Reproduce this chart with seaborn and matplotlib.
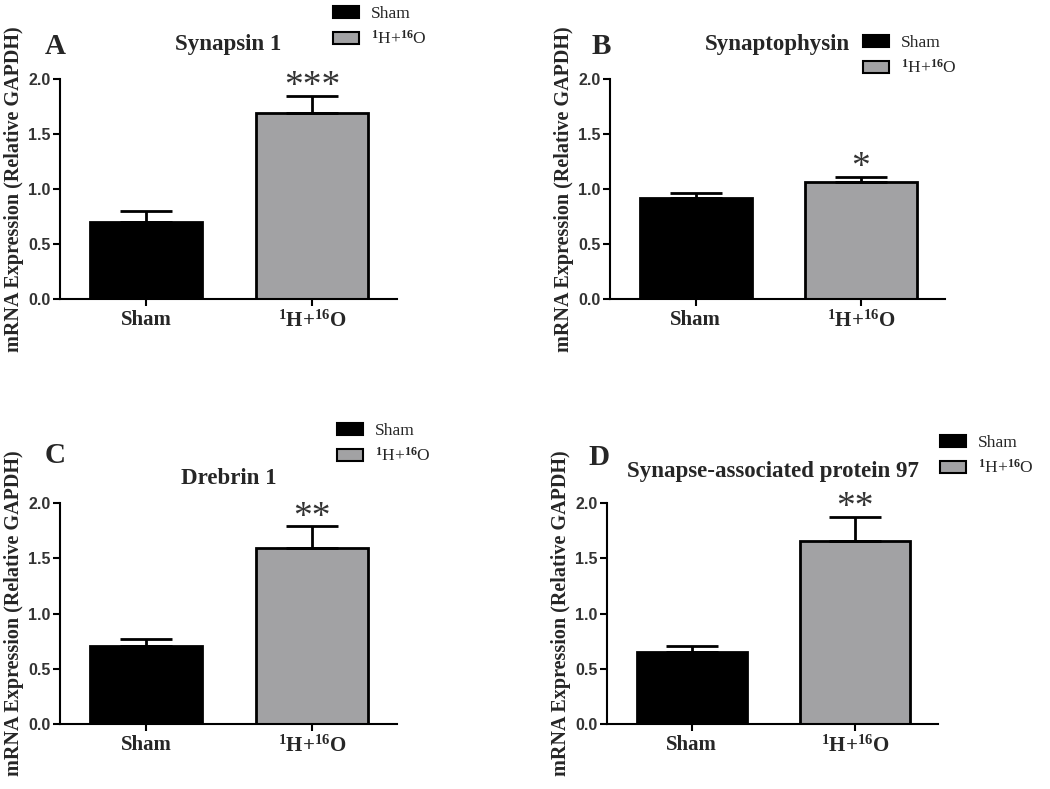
import numpy as np
import pandas as pd
import matplotlib
matplotlib.use("Agg")
import matplotlib.pyplot as plt
import seaborn as sns
from matplotlib.patches import Patch


# values
PANELs = ["A", "B", "C", "D"]
GENEs = ["Synapsin 1", "Synaptophysin", "Drebrin 1", "Synapse-associated protein 97"]
GROUPs = ["Sham", r"$^{1}$H+$^{16}$O"]
sham_mean = [0.70, 0.92, 0.71, 0.65]
sham_sem = [0.10, 0.04, 0.06, 0.06]
irr_mean = [1.69, 1.065, 1.59, 1.66]
irr_sem = [0.16, 0.045, 0.20, 0.215]
STARs = ["***", "*", "**", "**"]
YTICKs = [0.0, 0.5, 1.0, 1.5, 2.0]

COLORs = ["#000000", "#a2a2a4"]


sns.set_style("ticks")
plt.rcParams["font.family"] = ["Liberation Serif", "DejaVu Serif"]
plt.rcParams["mathtext.fontset"] = "custom"
plt.rcParams["mathtext.rm"] = "Liberation Serif"
plt.rcParams["mathtext.bf"] = "Liberation Serif:bold"
plt.rcParams["mathtext.it"] = "Liberation Serif:italic"
plt.rcParams["mathtext.default"] = "bf"

W, H = 1050, 789
fig = plt.figure(figsize=(W / 100, H / 100), dpi=100)

# axes boxes in pixels: left, top, right, bottom
boxes = [(60, 79, 397, 299), (610, 79, 945, 299), (60, 503, 397, 724), (607, 503, 938, 724)]
title_pad = [21, 21, 14, 19]
letter_pos = [(45, 54), (592, 54), (45, 463), (588, 465)]
legend_pos = [(333, 6), (863, 35), (337, 423), (940, 435)]


def px_ax(box):
    l, t, r, b = box
    return [l / W, 1 - b / H, (r - l) / W, (b - t) / H]


for i in range(4):
    ax = fig.add_axes(px_ax(boxes[i]))
    df = pd.DataFrame({"group": GROUPs, "value": [sham_mean[i], irr_mean[i]]})
    sns.barplot(data=df, x="group", y="value", hue="group", palette=COLORs, order=GROUPs,
                hue_order=GROUPs, edgecolor="black", linewidth=2, width=0.675,
                errorbar=None, legend=False, ax=ax)
    means = np.array([sham_mean[i], irr_mean[i]])
    sems = np.array([sham_sem[i], irr_sem[i]])
    xs = np.arange(len(GROUPs))
    ax.errorbar(xs, means, yerr=[np.zeros(2), sems], fmt="none", ecolor="black",
                elinewidth=2, capsize=19, capthick=2, zorder=5)
    # significance marker above the irradiated bar
    ax.annotate(STARs[i], (xs[1], means[1] + sems[1]), xytext=(0, -6), textcoords="offset points",
                ha="center", va="bottom", fontsize=27, color="#333333")

    ax.set_ylim(0, 2.0)
    ax.set_xlim(-0.52, 1.51)
    ax.set_yticks(YTICKs)
    ax.set_yticklabels([f"{v:.1f}" for v in YTICKs], fontfamily="Liberation Sans",
                       fontweight="bold", fontsize=11.5, color="#333333")
    ax.set_xticks(xs)
    ax.set_xticklabels(GROUPs, fontweight="bold", fontsize=15)
    ax.set_xlabel("")
    ax.set_ylabel("mRNA Expression (Relative GAPDH)", fontweight="bold", fontsize=14.5)
    ax.yaxis.set_label_coords(-36 / (boxes[i][2] - boxes[i][0]), 0.5)
    ax.tick_params(axis="both", direction="out", length=5, width=1.5, color="black")
    ax.tick_params(axis="x", pad=3)
    ax.tick_params(axis="y", pad=2)
    sns.despine(ax=ax)
    for sp in ["left", "bottom"]:
        ax.spines[sp].set_linewidth(1.5)
        ax.spines[sp].set_color("black")

    ax.set_title(GENEs[i], fontweight="bold", fontsize=16.5, pad=title_pad[i])
    lx, ly = letter_pos[i]
    fig.text(lx / W, 1 - ly / H, PANELs[i], fontweight="bold", fontsize=21,
             ha="left", va="baseline")

    handles = [Patch(facecolor=c, edgecolor="black", linewidth=1.5) for c in COLORs]
    gx, gy = legend_pos[i]
    ax.legend(handles, GROUPs, loc="upper left", bbox_to_anchor=(gx / W, 1 - gy / H),
              bbox_transform=fig.transFigure, frameon=False, borderpad=0, borderaxespad=0,
              fontsize=12.5, handlelength=1.5, handleheight=0.7, handletextpad=0.7,
              labelspacing=0.45)

plt.savefig("out.png", dpi=100)
